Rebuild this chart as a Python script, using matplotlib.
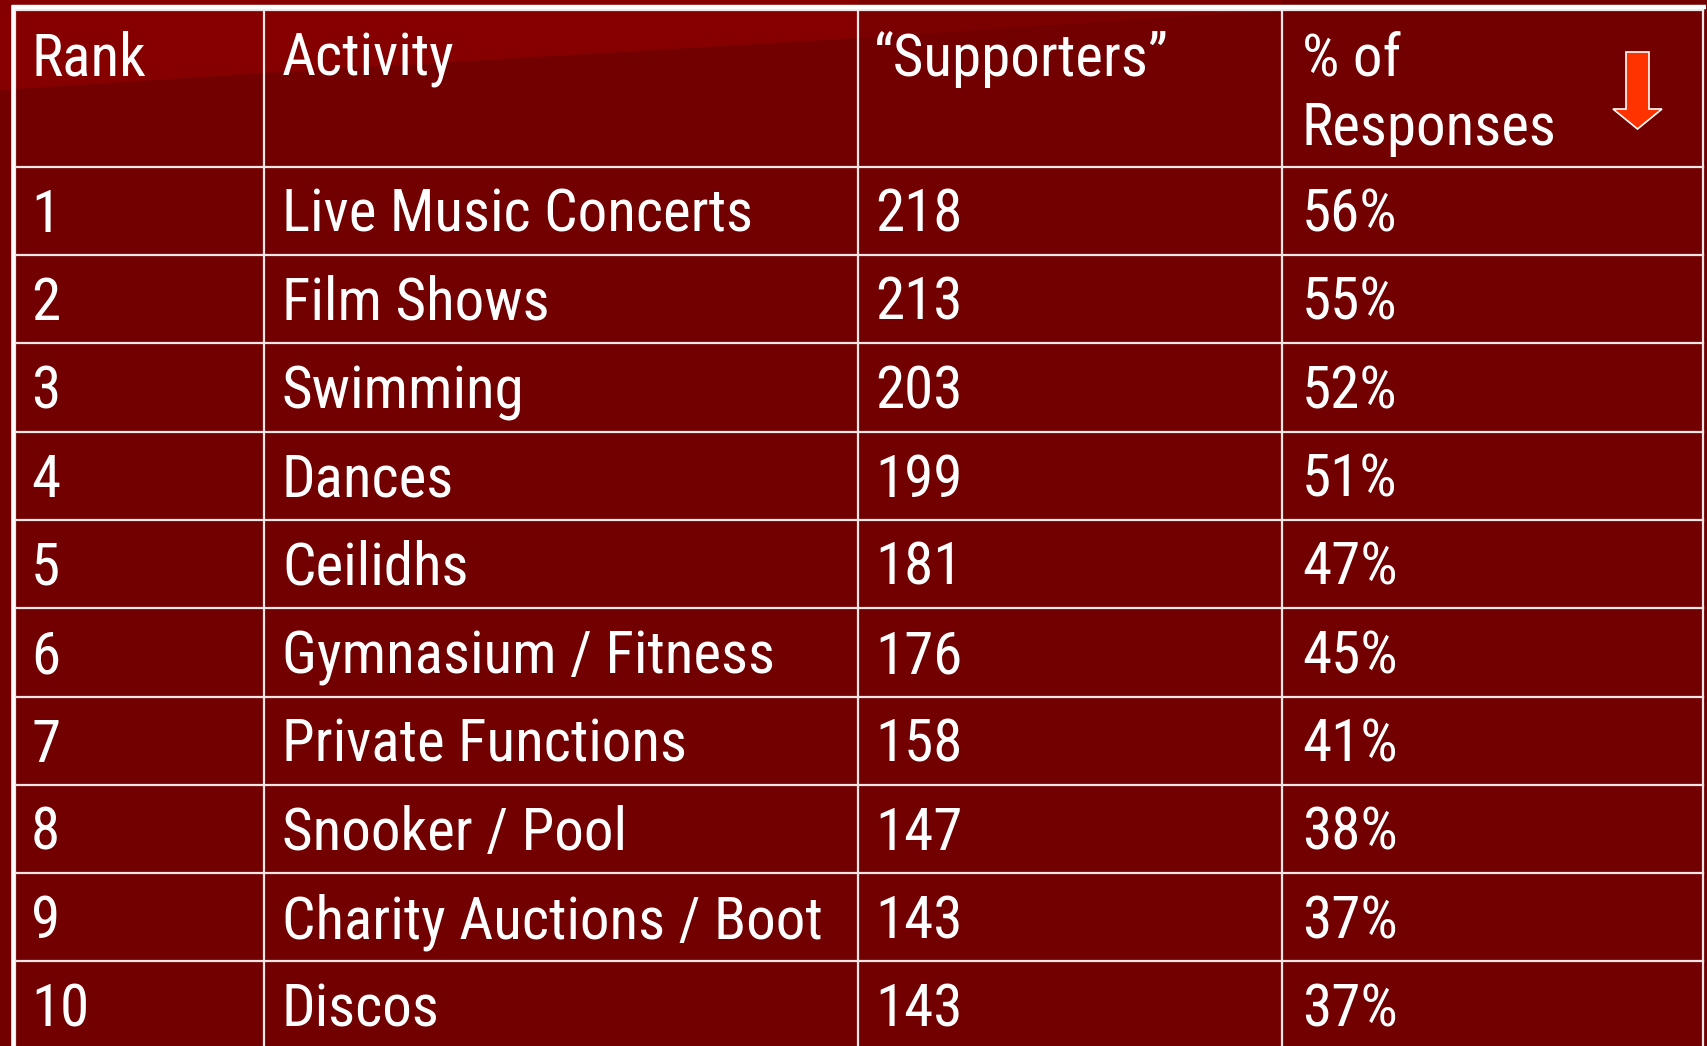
import matplotlib
matplotlib.use("Agg")
import matplotlib.pyplot as plt
from matplotlib.patches import Polygon

header = ["Rank", "Activity", "\u201cSupporters\u201d", "% of\nResponses"]
ranks = ["1", "2", "3", "4", "5", "6", "7", "8", "9", "10"]
activities = ["Live Music Concerts", "Film Shows", "Swimming", "Dances", "Ceilidhs",
              "Gymnasium / Fitness", "Private Functions", "Snooker / Pool",
              "Charity Auctions / Boot", "Discos"]
supporters = [218, 213, 203, 199, 181, 176, 158, 147, 143, 143]
pct = [56, 55, 52, 51, 47, 45, 41, 38, 37, 37]

W, H = 1708, 1046
fig = plt.figure(figsize=(W / 100, H / 100), dpi=100)
ax = fig.add_axes([0, 0, 1, 1])
ax.set_xlim(0, W)
ax.set_ylim(H, 0)
ax.axis("off")
bg = "#720000"
fig.patch.set_facecolor(bg)
ax.set_facecolor(bg)

# lighter sheen top-left
ax.add_patch(Polygon([(0, 0), (1100, 0), (858, 38), (264, 73), (0, 90)],
                     closed=True, facecolor="#860000", edgecolor="none", zorder=0))
ax.add_patch(Polygon([(858, 0), (1282, 0), (1282, 10), (858, 38)],
                     closed=True, facecolor="#7b0000", edgecolor="none", zorder=0))

col_x = [15, 264, 858, 1282, 1703]
top = 10
header_bottom = 166.7
row_h = 88.3
row_tops = [header_bottom + i * row_h for i in range(len(ranks))]
line_c = "#f0e6e6"

# outer thick border
ax.plot([12, 1706], [6.5, 6.5], color="white", lw=3.2, solid_capstyle="butt", zorder=3)
ax.plot([13.2, 13.2], [5, H], color="white", lw=2.6, solid_capstyle="butt", zorder=3)

# grid
for x in col_x:
    ax.plot([x, x], [top, H], color=line_c, lw=1.6, zorder=2)
ax.plot([col_x[0], col_x[-1]], [top, top], color=line_c, lw=1.6, zorder=2)
for y in row_tops:
    ax.plot([col_x[0], col_x[-1]], [y, y], color=line_c, lw=1.6, zorder=2)

fs = 42.5
font = ["Roboto Condensed", "DejaVu Sans"]
text_x = [31, 282, 875, 1302]
header_x = [31, 282, 874, 1302]
# header
for i, h in enumerate(header):
    lines = h.split("\n")
    for j, ln in enumerate(lines):
        ax.text(header_x[i], 76 + j * 69, ln, color="white", fontsize=fs, family=font,
                va="baseline", ha="left", zorder=4)

for r in range(len(ranks)):
    yb = row_tops[r] + 65
    vals = [ranks[r], activities[r], str(supporters[r]), f"{pct[r]}%"]
    for i, v in enumerate(vals):
        ax.text(text_x[i], yb, v, color="white", fontsize=fs, family=font,
                va="baseline", ha="left", zorder=4, clip_on=True)

# arrow
ax.add_patch(Polygon([(1626, 52), (1649, 52), (1649, 109), (1662, 109), (1637.5, 129),
                      (1613, 109), (1626, 109)], closed=True, facecolor="#ff3300",
                     edgecolor="white", lw=1.2, zorder=5))

fig.savefig("out.png", dpi=100, facecolor=bg)
